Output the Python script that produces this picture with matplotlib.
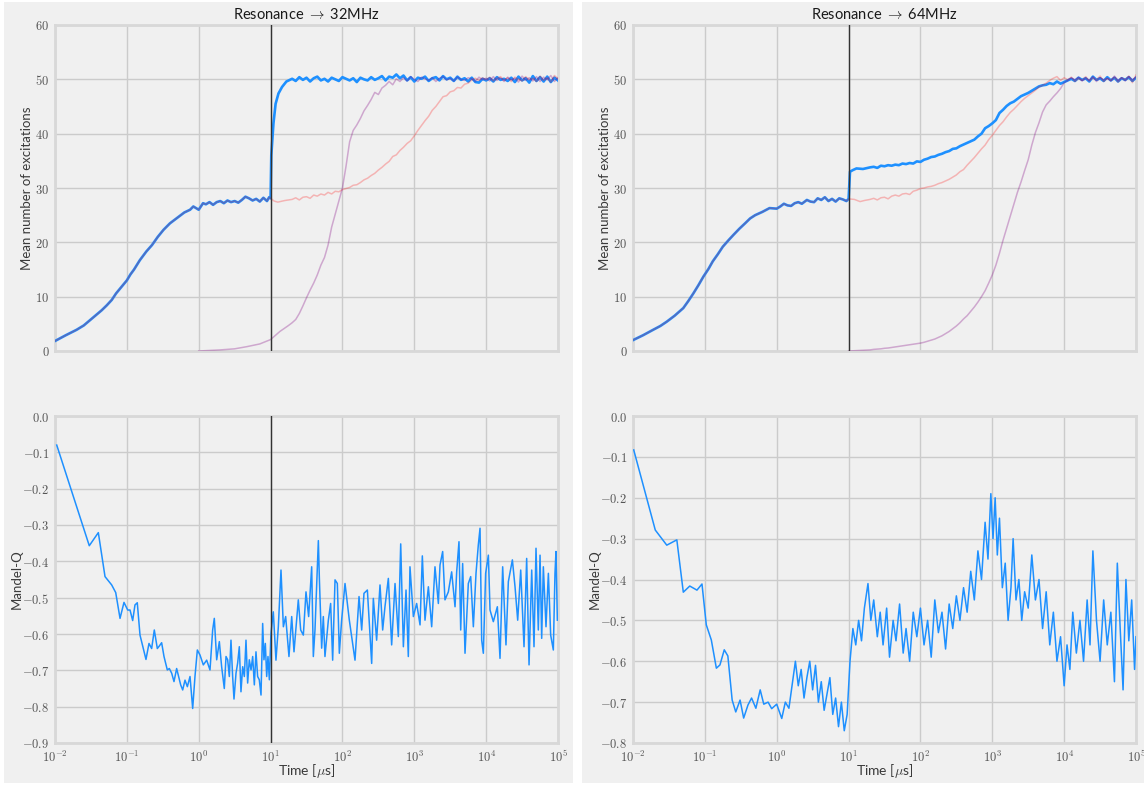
import numpy as np
import matplotlib
matplotlib.use('Agg')
import matplotlib.pyplot as plt
from matplotlib.ticker import FuncFormatter, FixedLocator, NullLocator
from matplotlib.patches import Rectangle

plt.rcParams['mathtext.fontset'] = 'cm'
plt.rcParams['font.family'] = ['Lato', 'DejaVu Sans']

# ---------------- data (log10 of time in microseconds) ----------------
G = [1.30, 1.35, 1.40, 1.45, 1.50, 1.55, 1.60, 1.65, 1.70, 1.75,
     1.80, 1.85, 1.90, 1.95, 2.00, 2.05, 2.10, 2.15, 2.20, 2.25,
     2.30, 2.35, 2.40, 2.45, 2.50, 2.55, 2.60, 2.65, 2.70, 2.75,
     2.80, 2.85, 2.90, 2.95, 3.00, 3.05, 3.10, 3.15, 3.20, 3.25,
     3.30, 3.35, 3.40, 3.45, 3.50, 3.55, 3.60, 3.65, 3.70, 3.75,
     3.80, 3.85, 3.90, 3.95, 4.00, 4.05, 4.10, 4.15, 4.20, 4.25,
     4.30, 4.35, 4.40, 4.45, 4.50, 4.55, 4.60, 4.65, 4.70, 4.75,
     4.80, 4.85, 4.90, 4.95, 5.00]

# ---- 32 MHz panel ----
L_pre_t = [-2.0, -1.85, -1.70, -1.60, -1.51, -1.42, -1.35, -1.28, -1.21, -1.15,
           -1.10, -1.05, -1.0, -0.95, -0.90, -0.82, -0.73, -0.65, -0.57, -0.49,
           -0.40, -0.31, -0.20, -0.12, -0.075, 0.0, 0.06, 0.10, 0.15, 0.20,
           0.25, 0.30, 0.35, 0.40, 0.45, 0.50, 0.55, 0.60, 0.65, 0.70,
           0.75, 0.80, 0.85, 0.90, 0.95, 0.98, 1.0]
L_pre_n = [1.84, 2.9, 3.9, 4.7, 5.7, 6.7, 7.5, 8.4, 9.4, 10.6,
           11.4, 12.2, 13.0, 14.1, 15.0, 16.7, 18.3, 19.5, 21.0, 22.3,
           23.5, 24.4, 25.5, 26.0, 26.6, 26.0, 27.2, 27.0, 27.4, 26.9,
           27.4, 27.6, 27.2, 27.7, 27.4, 27.6, 27.3, 27.8, 28.4, 28.1,
           27.7, 28.0, 27.5, 28.2, 27.6, 28.3, 28.1]

L_blue_jump_t = [1.01, 1.04, 1.07, 1.11, 1.16, 1.22]
L_blue_jump_n = [36.0, 41.9, 45.5, 47.4, 48.6, 49.6]
L_blue_G = [50.1, 49.7, 50.4, 49.9, 50.3, 49.6, 50.2, 50.5, 49.8, 50.1,
            49.6, 50.3, 50.0, 49.7, 50.4, 50.1, 49.8, 50.2, 49.5, 50.3,
            50.0, 49.8, 50.4, 49.9, 50.2, 50.6, 49.8, 50.5, 50.3, 50.9,
            50.2, 50.7, 49.8, 50.4, 49.6, 50.3, 50.1, 50.5, 49.7, 50.2,
            50.4, 49.8, 50.6, 50.0, 50.3, 49.7, 50.5, 49.9, 50.2, 49.6,
            50.3, 49.5, 49.4, 50.1, 49.8, 50.2, 49.6, 50.4, 49.9, 50.1,
            49.7, 50.3, 49.5, 50.5, 49.8, 50.2, 49.4, 50.6, 49.7, 50.4,
            49.6, 50.5, 49.5, 50.3, 49.8]

L_pink_jump_t = [1.05, 1.1, 1.2]
L_pink_jump_n = [27.6, 27.4, 27.7]
L_pink_G = [27.9, 28.2, 27.8, 28.3, 28.4, 28.1, 28.7, 28.5, 28.9, 28.7,
            29.2, 28.9, 29.4, 29.3, 29.7, 29.9, 30.1, 30.5, 30.6, 31.0,
            31.5, 31.8, 32.3, 32.7, 33.3, 33.8, 34.4, 34.9, 35.8, 36.1,
            36.9, 37.5, 38.2, 38.7, 39.6, 40.6, 41.5, 42.4, 43.2, 44.3,
            45.0, 45.9, 46.8, 47.0, 47.7, 47.9, 48.5, 48.4, 49.1, 49.3,
            49.9, 50.2, 49.8, 50.3, 49.9, 50.4, 49.7, 50.2, 50.5, 49.8,
            50.3, 49.6, 50.4, 50.0, 49.7, 50.5, 49.9, 50.2, 49.6, 50.6,
            49.8, 50.3, 49.5, 50.7, 50.1]

L_purp_early_t = [0.0, 0.3, 0.5, 0.67, 0.85, 1.0, 1.13, 1.25]
L_purp_early_n = [0.0, 0.2, 0.4, 0.8, 1.3, 2.1, 3.6, 4.7]
L_purp_G = [5.2, 5.8, 6.9, 8.3, 9.8, 11.2, 12.5, 14.0, 15.8, 17.2,
            19.5, 22.8, 25.2, 27.6, 30.0, 34.0, 38.5, 40.6, 41.6, 42.8,
            44.2, 45.2, 46.3, 47.6, 47.2, 48.4, 48.9, 49.6, 49.0, 50.1,
            49.6, 50.3, 49.7, 50.5, 50.0, 49.6, 50.4, 50.1, 49.8, 50.3,
            49.6, 50.2, 50.5, 49.9, 50.2, 49.7, 50.4, 50.0, 49.8, 50.3,
            50.1, 49.6, 50.4, 49.9, 50.2, 49.7, 50.5, 49.8, 50.3, 49.6,
            50.4, 49.9, 50.2, 49.5, 50.6, 49.8, 50.3, 49.7, 50.5, 49.6,
            50.4, 49.9, 50.7, 49.6, 50.3]

LQ_t = [-1.976, -1.523, -1.397, -1.304, -1.211, -1.155, -1.095, -1.040, -0.988, -0.956,
        -0.919, -0.887, -0.855,
        -0.817, -0.734, -0.692, -0.655, -0.618, -0.576, -0.548, -0.516, -0.483, -0.437,
        -0.409, -0.376, -0.344, -0.307, -0.279, -0.251, -0.223, -0.191, -0.158, -0.121,
        -0.084, -0.052, -0.019, 0.018, 0.064, 0.111, 0.157, 0.194, 0.217, 0.250,
        0.287, 0.319, 0.356, 0.380, 0.403, 0.426, 0.449, 0.472, 0.491, 0.519,
        0.542, 0.565, 0.588, 0.612, 0.635, 0.658, 0.681, 0.704, 0.728, 0.751,
        0.774, 0.797, 0.820, 0.843, 0.867, 0.890, 0.908, 0.927, 0.946, 0.964,
        0.983,
        1.005, 1.038, 1.075, 1.108, 1.145, 1.178, 1.210, 1.256, 1.294, 1.326,
        1.386, 1.419, 1.456, 1.493, 1.530, 1.572, 1.595, 1.618, 1.665, 1.679,
        1.711, 1.734, 1.757, 1.804, 1.836, 1.864, 1.897, 1.929, 1.957, 1.989,
        2.036, 2.096, 2.175, 2.231, 2.268, 2.300, 2.347, 2.407, 2.430, 2.476,
        2.523, 2.560, 2.592, 2.639, 2.685, 2.732, 2.778, 2.811, 2.848, 2.885,
        2.917, 2.940, 2.987, 3.033, 3.080, 3.112, 3.149, 3.196, 3.242, 3.288,
        3.335, 3.358, 3.395, 3.427, 3.474, 3.520, 3.567, 3.590, 3.622, 3.646,
        3.673, 3.706, 3.752, 3.785, 3.822, 3.859, 3.891, 3.915, 3.938, 3.961,
        3.993, 4.031, 4.054, 4.100, 4.156, 4.193, 4.230, 4.276, 4.309, 4.365,
        4.402, 4.439, 4.481, 4.527, 4.564, 4.597, 4.634, 4.666, 4.694, 4.726,
        4.750, 4.773, 4.796, 4.833, 4.866, 4.898, 4.935, 4.958, 4.972, 4.991]
LQ_v = [-0.080, -0.357, -0.321, -0.442, -0.465, -0.486, -0.557, -0.513, -0.534, -0.534,
        -0.563, -0.520, -0.514,
        -0.603, -0.670, -0.626, -0.640, -0.589, -0.640, -0.633, -0.624, -0.662, -0.699,
        -0.695, -0.708, -0.731, -0.695, -0.717, -0.740, -0.754, -0.727, -0.745, -0.717,
        -0.805, -0.717, -0.644, -0.658, -0.685, -0.672, -0.699, -0.589, -0.557, -0.671,
        -0.621, -0.690, -0.750, -0.662, -0.671, -0.717, -0.617, -0.717, -0.779, -0.708,
        -0.680, -0.635, -0.759, -0.690, -0.717, -0.617, -0.735, -0.671, -0.699, -0.662,
        -0.740, -0.649, -0.717, -0.726, -0.768, -0.571, -0.671, -0.626, -0.717, -0.662,
        -0.726,
        -0.600, -0.539, -0.672, -0.580, -0.424, -0.580, -0.552, -0.662, -0.552, -0.649,
        -0.506, -0.589, -0.603, -0.484, -0.552, -0.415, -0.662, -0.589, -0.343, -0.447,
        -0.639, -0.552, -0.662, -0.562, -0.516, -0.672, -0.451, -0.461, -0.653, -0.562,
        -0.461, -0.562, -0.672, -0.497, -0.589, -0.488, -0.479, -0.681, -0.502, -0.617,
        -0.465, -0.589, -0.525, -0.447, -0.630, -0.461, -0.607, -0.352, -0.635, -0.479,
        -0.662, -0.415, -0.552, -0.516, -0.575, -0.385, -0.562, -0.470, -0.580, -0.415,
        -0.516, -0.410, -0.373, -0.506, -0.484, -0.429, -0.525, -0.429, -0.346, -0.589,
        -0.406, -0.653, -0.461, -0.442, -0.580, -0.433, -0.355, -0.309, -0.617, -0.653,
        -0.433, -0.383, -0.534, -0.566, -0.525, -0.667, -0.415, -0.630, -0.456, -0.396,
        -0.470, -0.562, -0.424, -0.635, -0.392, -0.685, -0.424, -0.635, -0.364, -0.589,
        -0.383, -0.612, -0.415, -0.580, -0.433, -0.603, -0.644, -0.433, -0.373, -0.562]

# ---- 64 MHz panel ----
R_pre_t = [-2.0, -1.86, -1.72, -1.62, -1.53, -1.42, -1.30, -1.23, -1.16, -1.09,
           -1.02, -0.95, -0.89, -0.82, -0.75, -0.67, -0.60, -0.52, -0.44, -0.37,
           -0.30, -0.20, -0.10, 0.0, 0.05, 0.10, 0.15, 0.20, 0.25, 0.30,
           0.35, 0.42, 0.47, 0.52, 0.57, 0.62, 0.67, 0.72, 0.77, 0.82,
           0.87, 0.92, 0.97, 1.0]
R_pre_n = [2.0, 2.9, 3.9, 4.6, 5.4, 6.5, 7.9, 9.2, 10.6, 12.1,
           13.7, 15.1, 16.5, 17.8, 19.2, 20.4, 21.4, 22.5, 23.5, 24.4,
           25.0, 25.6, 26.3, 26.2, 26.6, 27.1, 26.8, 26.7, 27.2, 27.4,
           27.1, 27.8, 27.5, 27.4, 28.1, 27.8, 28.3, 27.6, 28.0, 27.5,
           28.1, 27.9, 27.6, 28.0]

R_blue_jump_t = [1.02, 1.06, 1.11, 1.2]
R_blue_jump_n = [33.0, 33.3, 33.6, 33.5]
R_blue_G = [33.8, 33.9, 33.7, 34.1, 34.0, 34.2, 34.1, 34.3, 34.2, 34.5,
            34.4, 34.6, 34.5, 34.9, 34.8, 35.2, 35.4, 35.7, 35.8, 36.1,
            36.3, 36.6, 36.8, 37.2, 37.3, 37.7, 38.0, 38.3, 38.6, 38.9,
            39.5, 40.0, 41.0, 41.4, 41.9, 42.5, 43.8, 44.4, 45.1, 45.6,
            45.9, 46.4, 46.9, 47.2, 47.5, 47.9, 48.3, 48.7, 48.9, 49.0,
            49.3, 49.1, 49.6, 49.2, 49.5, 49.8, 50.1, 49.7, 50.3, 49.9,
            50.2, 49.6, 50.5, 49.9, 50.2, 49.7, 50.4, 49.8, 50.3, 49.6,
            50.2, 49.9, 50.4, 49.7, 50.3]

R_pink_jump_t = [1.08, 1.16, 1.22]
R_pink_jump_n = [27.9, 27.5, 27.7]
R_pink_G = [27.9, 28.1, 27.8, 28.2, 28.3, 28.0, 28.5, 28.7, 28.5, 28.9,
            29.0, 28.8, 29.4, 29.6, 29.9, 30.0, 30.2, 30.3, 30.5, 30.8,
            31.0, 31.3, 31.6, 32.0, 32.4, 33.0, 33.4, 34.2, 34.9, 35.6,
            36.4, 37.2, 37.9, 38.9, 39.7, 40.6, 41.5, 42.2, 43.1, 43.9,
            44.5, 45.2, 45.9, 46.5, 47.0, 47.5, 48.0, 48.6, 48.9, 49.3,
            49.8, 50.2, 50.5, 49.8, 50.3, 49.9, 50.4, 49.6, 50.2, 49.8,
            50.5, 49.7, 50.3, 49.9, 50.6, 49.6, 50.2, 49.8, 50.4, 49.5,
            50.3, 49.9, 50.6, 49.4, 50.8]

R_purp_early_t = [1.0, 1.15]
R_purp_early_n = [0.0, 0.1]
R_purp_G = [0.2, 0.3, 0.35, 0.4, 0.5, 0.55, 0.65, 0.75, 0.85, 0.95,
            1.05, 1.15, 1.25, 1.35, 1.45, 1.6, 1.8, 2.0, 2.2, 2.5,
            2.8, 3.2, 3.6, 4.1, 4.6, 5.2, 5.9, 6.5, 7.3, 8.1,
            9.0, 10.0, 11.1, 12.5, 14.0, 15.8, 18.0, 20.4, 22.6, 24.8,
            27.0, 29.2, 31.1, 33.2, 35.2, 37.9, 40.2, 42.0, 44.0, 45.3,
            46.0, 46.8, 47.5, 48.3, 49.4, 49.8, 50.3, 49.9, 50.4, 49.7,
            50.2, 49.8, 50.5, 49.6, 50.3, 49.9, 50.2, 49.7, 50.6, 49.8,
            50.3, 49.7, 50.5, 49.9, 50.4]

RQ_t = [-1.99, -1.69, -1.53, -1.39, -1.30, -1.21, -1.11, -1.04, -0.98, -0.91,
        -0.84, -0.79, -0.73, -0.68, -0.62, -0.57, -0.51, -0.46, -0.40, -0.35,
        -0.29, -0.23, -0.18, -0.12, -0.07, 0.0, 0.07, 0.12, 0.17, 0.22,
        0.26, 0.30, 0.34, 0.38, 0.42, 0.46, 0.50, 0.54, 0.58, 0.62,
        0.66, 0.70, 0.74, 0.78, 0.82, 0.86, 0.90, 0.94, 0.98, 1.02,
        1.06, 1.10, 1.14, 1.18, 1.22, 1.27, 1.31, 1.35, 1.40, 1.44,
        1.48, 1.53, 1.57, 1.62, 1.66, 1.71, 1.76, 1.80, 1.85, 1.90,
        1.95, 2.00, 2.05, 2.10, 2.15, 2.20, 2.25, 2.30, 2.35, 2.40,
        2.45, 2.50, 2.55, 2.60, 2.65, 2.70, 2.75, 2.80, 2.85, 2.90,
        2.94, 2.98, 3.01, 3.04, 3.07, 3.10, 3.14, 3.18, 3.22, 3.26,
        3.29, 3.33, 3.37, 3.41, 3.45, 3.50, 3.55, 3.60, 3.65, 3.70,
        3.75, 3.80, 3.85, 3.90, 3.95, 4.00, 4.04, 4.08, 4.12, 4.17,
        4.22, 4.27, 4.32, 4.36, 4.40, 4.45, 4.50, 4.55, 4.60, 4.65,
        4.70, 4.74, 4.78, 4.82, 4.86, 4.90, 4.94, 4.98, 5.00]
RQ_v = [-0.083, -0.279, -0.316, -0.303, -0.431, -0.416, -0.426, -0.411, -0.511, -0.548,
        -0.617, -0.609, -0.572, -0.587, -0.695, -0.724, -0.695, -0.739, -0.707, -0.690,
        -0.715, -0.670, -0.705, -0.700, -0.716, -0.705, -0.740, -0.700, -0.715, -0.650,
        -0.600, -0.660, -0.620, -0.690, -0.640, -0.600, -0.670, -0.610, -0.700, -0.650,
        -0.720, -0.680, -0.640, -0.730, -0.690, -0.760, -0.700, -0.770, -0.730, -0.600,
        -0.520, -0.560, -0.500, -0.550, -0.470, -0.410, -0.500, -0.450, -0.540, -0.480,
        -0.560, -0.470, -0.590, -0.500, -0.550, -0.460, -0.580, -0.520, -0.600, -0.480,
        -0.540, -0.470, -0.560, -0.500, -0.590, -0.450, -0.530, -0.480, -0.570, -0.460,
        -0.520, -0.440, -0.500, -0.420, -0.480, -0.380, -0.450, -0.330, -0.400, -0.260,
        -0.350, -0.190, -0.300, -0.200, -0.340, -0.250, -0.420, -0.360, -0.500, -0.420,
        -0.300, -0.450, -0.400, -0.500, -0.430, -0.470, -0.340, -0.450, -0.400, -0.520,
        -0.430, -0.560, -0.480, -0.600, -0.540, -0.660, -0.560, -0.620, -0.480, -0.580,
        -0.500, -0.600, -0.450, -0.560, -0.330, -0.500, -0.600, -0.450, -0.560, -0.480,
        -0.650, -0.360, -0.520, -0.670, -0.400, -0.550, -0.450, -0.620, -0.540]

titles = ['Resonance $\\rightarrow$ 32MHz', 'Resonance $\\rightarrow$ 64MHz']
ylabel_top = 'Mean number of excitations'
ylabel_bot = 'Mandel-Q'
xlabel_bot = 'Time [$\\mu$s]'
resonance_time = 10
x_decades = [-2, -1, 0, 1, 2, 3, 4, 5]

# ---------------- figure ----------------
W, H = 1144, 785
fig = plt.figure(figsize=(W / 100, H / 100), dpi=100, facecolor='white')
for (px0, px1) in [(4, 573), (582, 1144)]:
    fig.patches.append(Rectangle((px0 / W, 1 - 783 / H), (px1 - px0) / W, 781 / H,
                                 transform=fig.transFigure, facecolor='#f0f0f0',
                                 edgecolor='none', zorder=-10))


def rect(x0, x1, ytop, ybot):
    return [x0 / W, 1 - ybot / H, (x1 - x0) / W, (ybot - ytop) / H]


tick_col = '#555555'
grid_col = '#cbcbcb'
label_col = '#3a3a3a'
label_fs = 9.5


def style(ax):
    ax.set_facecolor('#f0f0f0')
    ax.set_xscale('log')
    ax.set_xlim(10.0 ** x_decades[0], 10.0 ** x_decades[-1])
    ax.xaxis.set_major_locator(FixedLocator([10.0 ** d for d in x_decades]))
    ax.xaxis.set_minor_locator(NullLocator())
    ax.grid(True, color=grid_col, lw=1.0)
    ax.set_axisbelow(True)
    for s in ax.spines.values():
        s.set_color('#d8d8d8')
        s.set_linewidth(2)
    ax.tick_params(length=0, labelsize=9, labelcolor=tick_col, pad=4)


xfmt = FuncFormatter(lambda v, p: '$10^{%d}$' % int(round(np.log10(v))))

panels = [
    dict(x0=55, x1=558, pre_t=L_pre_t, pre_n=L_pre_n,
         bj_t=L_blue_jump_t, bj_n=L_blue_jump_n, b_G=L_blue_G,
         pj_t=L_pink_jump_t, pj_n=L_pink_jump_n, p_G=L_pink_G,
         qe_t=L_purp_early_t, qe_n=L_purp_early_n, q_G=L_purp_G,
         Q_t=LQ_t, Q_v=LQ_v, qmin=-0.9, vline_bottom=True),
    dict(x0=633, x1=1136, pre_t=R_pre_t, pre_n=R_pre_n,
         bj_t=R_blue_jump_t, bj_n=R_blue_jump_n, b_G=R_blue_G,
         pj_t=R_pink_jump_t, pj_n=R_pink_jump_n, p_G=R_pink_G,
         qe_t=R_purp_early_t, qe_n=R_purp_early_n, q_G=R_purp_G,
         Q_t=RQ_t, Q_v=RQ_v, qmin=-0.8, vline_bottom=False),
]

for i, P in enumerate(panels):
    axt = fig.add_axes(rect(P['x0'], P['x1'], 25, 351))
    axb = fig.add_axes(rect(P['x0'], P['x1'], 416, 743))
    for ax in (axt, axb):
        style(ax)

    blue_t = 10.0 ** np.array(P['pre_t'] + P['bj_t'] + G)
    blue_n = np.array(P['pre_n'] + P['bj_n'] + P['b_G'])
    pink_t = 10.0 ** np.array(P['pre_t'] + P['pj_t'] + G)
    pink_n = np.array(P['pre_n'] + P['pj_n'] + P['p_G'])
    purp_t = 10.0 ** np.array(P['qe_t'] + G)
    purp_n = np.array(P['qe_n'] + P['q_G'])

    axt.plot(blue_t, blue_n, color='#1e90ff', lw=1.9, zorder=3)
    axt.plot(pink_t, pink_n, color='red', alpha=0.25, lw=1.1, zorder=4)
    axt.plot(purp_t, purp_n, color='purple', alpha=0.3, lw=1.1, zorder=4)
    axt.axvline(resonance_time, color='#333333', lw=1.0, zorder=5)
    axt.set_ylim(0, 60)
    axt.yaxis.set_major_locator(FixedLocator([0, 10, 20, 30, 40, 50, 60]))
    axt.yaxis.set_major_formatter(FuncFormatter(lambda v, p: '$%d$' % v))
    axt.xaxis.set_major_formatter(FuncFormatter(lambda v, p: ''))
    axt.set_title(titles[i], fontsize=10.5, pad=4, color='#1a1a1a')
    axt.set_ylabel(ylabel_top, fontsize=label_fs, color=label_col)
    axt.yaxis.set_label_coords(-0.043, 0.5)

    axb.plot(10.0 ** np.array(P['Q_t']), P['Q_v'], color='#1e90ff', lw=1.1, zorder=3)
    if P['vline_bottom']:
        axb.axvline(resonance_time, color='#333333', lw=1.0, zorder=5)
    axb.set_ylim(P['qmin'], 0)
    yt = np.round(np.arange(P['qmin'], 0.001, 0.1), 1)
    axb.yaxis.set_major_locator(FixedLocator(yt))
    axb.yaxis.set_major_formatter(FuncFormatter(
        lambda v, p: '$%.1f$' % (0.0 if abs(v) < 1e-9 else v)))
    axb.xaxis.set_major_formatter(xfmt)
    axb.set_xlabel(xlabel_bot, fontsize=label_fs + 0.5, color=label_col)
    axb.xaxis.set_label_coords(0.5, -0.058)
    axb.set_ylabel(ylabel_bot, fontsize=label_fs, color=label_col)
    axb.yaxis.set_label_coords(-0.064, 0.5)

fig.savefig('out.png', dpi=100, facecolor='white')
